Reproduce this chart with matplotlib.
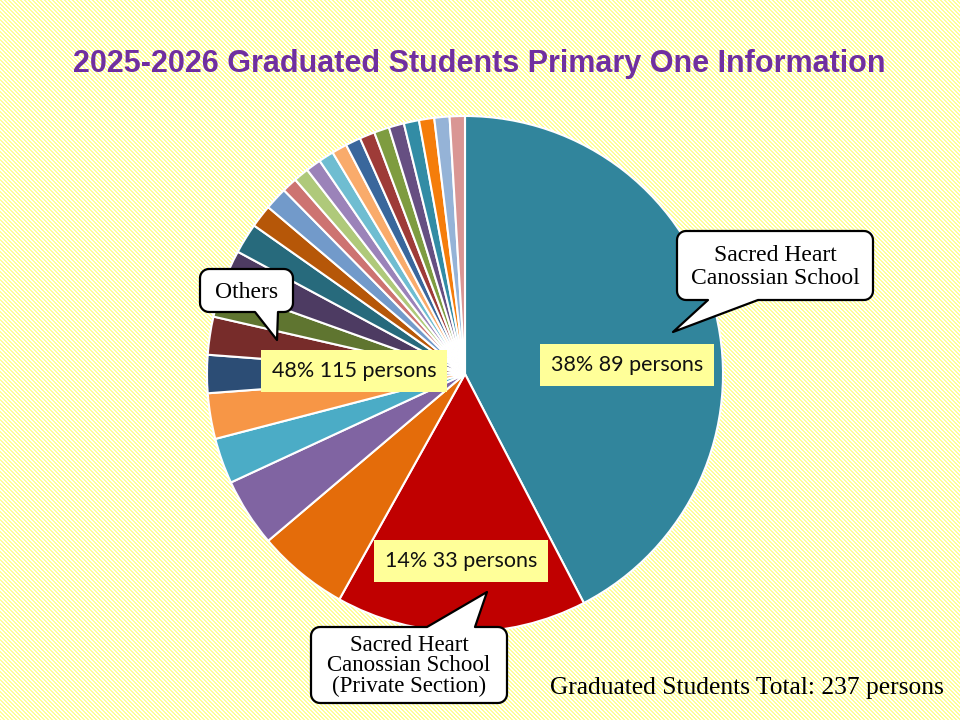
import numpy as np
import matplotlib
matplotlib.use('Agg')
import matplotlib.pyplot as plt
from matplotlib.patches import Polygon


# slice sizes, clockwise from 12 o'clock
counts = [89, 33, 12, 9, 6, 6, 5, 5, 4, 5, 4, 3, 3, 2,
          2, 2, 2, 2, 2, 2, 2, 2, 2, 2, 2, 2]
colors = ['#31859C', '#C00000', '#E46C0A', '#8064A2', '#4BACC6', '#F79646',
          '#2C4D75', '#772C2A', '#5F7530', '#4D3B62', '#276A7C', '#B65708',
          '#729ACA', '#CD7371', '#AFC97A', '#9B83B9', '#6FBDD1', '#F9AB6B',
          '#3A679C', '#9E3B38', '#7E9C40', '#664F82', '#328CA5', '#F57D0A',
          '#95B3D7', '#D99694']

# figures typed in the yellow label boxes
label_pct = [38, 14, 48]
label_n = [89, 33, 115]
total = 237

title = '2025-2026 Graduated Students Primary One Information'
school_main = 'Sacred Heart\nCanossian School'
school_private = 'Sacred Heart\nCanossian School\n(Private Section)'
others_name = 'Others'

W, H = 960, 720
fig = plt.figure(figsize=(W / 100, H / 100), dpi=100)

# striped pale yellow background
bg = fig.add_axes([0, 0, 1, 1], zorder=0)
yy, xx = np.mgrid[0:H, 0:W]
stripe = ((xx - yy) % 4) < 2
img = np.ones((H, W, 3))
img[stripe] = [1.0, 1.0, 150 / 255]
bg.imshow(img, interpolation='nearest', aspect='auto')
bg.axis('off')

# pie, centre (465, 374) px, radius 258 px
cx, cy, r = 465, 374, 258
pax = fig.add_axes([(cx - r) / W, (H - cy - r) / H, 2 * r / W, 2 * r / H], zorder=1)
pax.pie(counts, colors=colors, startangle=90, counterclock=False,
        wedgeprops=dict(edgecolor='white', linewidth=1.5))
pax.set_xlim(-1, 1)
pax.set_ylim(-1, 1)
pax.set_aspect('equal')
pax.axis('off')

# overlay in pixel coordinates (y down)
ax = fig.add_axes([0, 0, 1, 1], zorder=2)
ax.set_xlim(0, W)
ax.set_ylim(H, 0)
ax.axis('off')
ax.patch.set_alpha(0)


def arc(xc, yc, rad, a0, a1):
    a = np.radians(np.linspace(a0, a1, 8))
    return list(zip(xc + rad * np.cos(a), yc + rad * np.sin(a)))


def bubble(x0, y0, x1, y1, side, b0, b1, tip, rad=9):
    pts = [(x0 + rad, y0)]
    if side == 'top':
        pts += [(b0, y0), tip, (b1, y0)]
    pts += arc(x1 - rad, y0 + rad, rad, -90, 0)
    pts += arc(x1 - rad, y1 - rad, rad, 0, 90)
    if side == 'bottom':
        pts += [(b1, y1), tip, (b0, y1)]
    pts += arc(x0 + rad, y1 - rad, rad, 90, 180)
    pts += arc(x0 + rad, y0 + rad, rad, 180, 270)
    ax.add_patch(Polygon(pts, closed=True, facecolor='white', edgecolor='black',
                         linewidth=1.6, joinstyle='round'))


serif = ['Liberation Serif', 'DejaVu Serif']
lab_font = ['Lato', 'DejaVu Sans']

bubble(677, 231, 873, 300, 'bottom', 708, 758, (673, 332))
ax.text(775, 267, school_main, ha='center', va='center', family=serif,
        fontsize=17, linespacing=1.12)

bubble(200, 269, 293, 312, 'bottom', 255, 278, (277, 340))
ax.text(247, 292, others_name, ha='center', va='center', family=serif, fontsize=17)

bubble(311, 627, 507, 703, 'top', 427, 475, (487, 592))
ax.text(409, 666, school_private, ha='center', va='center', family=serif,
        fontsize=16.5, linespacing=0.95)

# yellow value labels
label_pos = [(627, 365), (461, 561), (354, 371)]
for (x, y), p, n in zip(label_pos, label_pct, label_n):
    ax.text(x, y, f'{p}% {n} persons', ha='center', va='center', family=lab_font,
            fontsize=15.5, color='#111111',
            bbox=dict(boxstyle='square,pad=0.5', facecolor='#FFFF99', edgecolor='none'))

ax.text(479, 64, title, ha='center', va='center', fontsize=22, fontweight='bold',
        color='#7030A0', family=['Liberation Sans', 'DejaVu Sans'])

ax.text(550, 688, f'Graduated Students Total: {total} persons', ha='left', va='center',
        family=serif, fontsize=18.4)

fig.savefig('out.png', dpi=100)
